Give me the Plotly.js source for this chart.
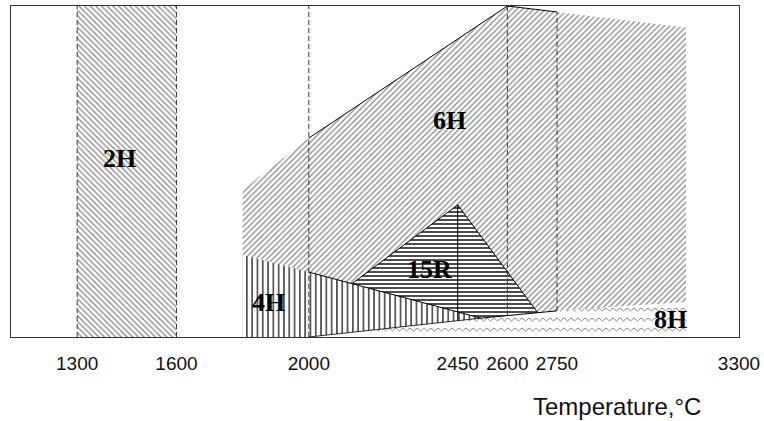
<!DOCTYPE html>
<html>
<head>
<meta charset="utf-8">
<script src="https://cdn.plot.ly/plotly-3.0.1.min.js"></script>
<style>
  html, body { margin: 0; padding: 0; background: #fff; }
  #chart { width: 764px; height: 421px; }
</style>
</head>
<body>
<div id="chart"></div>
<script>
// ---- Data (temperature in °C, vertical = relative stability, arbitrary 0-100) ----
const xTickVals = [1300, 1600, 2000, 2450, 2600, 2750, 3300];
const xTickText = ['1300', '1600', '2000', '2450', '2600', '2750', '3300'];

const region2H_T = [1300, 1600, 1600, 1300];
const region2H_y = [0, 0, 100, 100];

const region6H_T = [1800, 2000, 2600, 2750, 3140, 3140, 2750, 2520, 2000, 1800];
const region6H_y = [44.4, 60.1, 100, 98.2, 93.5, 10.5, 7.9, 5.7, 19.6, 24.8];

const region4H_T = [1800, 2000, 2520, 2000, 1800];
const region4H_y = [24.8, 19.6, 5.7, 0, 0];

const region8H_T = [2000, 2520, 2750, 3140, 3140];
const region8H_y = [0, 5.7, 7.9, 10.5, 0];

const region15R_T = [2130, 2450, 2692, 2520];
const region15R_y = [16.1, 39.9, 7.3, 5.7];

const edge6H_T = [2000, 2600, 2750];
const edge6H_y = [60.1, 100, 98.2];
const edge15R_T = [2130, 2450, 2692];
const edge15R_y = [16.1, 39.9, 7.3];
const edge4Htop_T = [2000, 2520, 2750];
const edge4Htop_y = [19.6, 5.7, 7.9];
const edge4Hbot_T = [2000, 2520];
const edge4Hbot_y = [0, 5.7];
const line2450_T = [2450, 2450];
const line2450_y = [4.9, 39.9];

const dashedT = [1300, 1600, 2000, 2600, 2750];
const dashedLow = [0, 0, 0, 6.5, 7.9];
const dashedHigh = [100, 100, 100, 100, 98.2];

const phaseNames = ['2H', '6H', '15R', '4H', '8H'];
const phaseLabelT = [1428, 2426, 2366, 1879, 3092];
const phaseLabelY = [53.8, 65.3, 20.5, 10.3, 5.2];

// ---- Build traces ----
function region(T, y, pattern) {
  return {
    type: 'scatter', mode: 'none', x: T, y: y, fill: 'toself',
    fillcolor: 'rgba(0,0,0,0)', fillpattern: pattern, hoverinfo: 'skip', showlegend: false
  };
}
function edge(T, y, w, color, dash) {
  return {
    type: 'scatter', mode: 'lines', x: T, y: y,
    line: { color: color, width: w, dash: dash || 'solid' },
    hoverinfo: 'skip', showlegend: false
  };
}

const dashX = [], dashY = [];
dashedT.forEach((t, i) => { dashX.push(t, t, null); dashY.push(dashedLow[i], dashedHigh[i], null); });

const data = [
  region(region2H_T, region2H_y, { shape: '\\', size: 4, solidity: 0.3, fgcolor: '#858585', bgcolor: '#ffffff' }),
  region(region6H_T, region6H_y, { shape: '/', size: 4, solidity: 0.3, fgcolor: '#858585', bgcolor: '#ffffff' }),
  region(region8H_T, region8H_y, { shape: 'x', size: 7, solidity: 0.15, fgcolor: '#9a9a9a', bgcolor: '#ffffff' }),
  region(region4H_T, region4H_y, { shape: '|', size: 5.3, solidity: 0.22, fgcolor: '#000000', bgcolor: '#ffffff' }),
  region(region15R_T, region15R_y, { shape: '-', size: 4, solidity: 0.35, fgcolor: '#000000', bgcolor: '#ffffff' }),
  edge(dashX, dashY, 1, '#333333', '5px,3px'),
  edge(edge6H_T, edge6H_y, 1, '#000000'),
  edge(edge15R_T, edge15R_y, 1, '#000000'),
  edge(edge4Htop_T, edge4Htop_y, 1, '#000000'),
  edge(edge4Hbot_T, edge4Hbot_y, 0.8, '#000000'),
  edge(line2450_T, line2450_y, 1, '#000000')
];
const idx8H = 2;

const W = 764, H = 421, mL = 11, mR = 25, mT = 6, mB = 84;

const annotations = phaseNames.map((name, i) => ({
  x: phaseLabelT[i], y: phaseLabelY[i], xref: 'x', yref: 'y', text: '<b>' + name + '</b>',
  xanchor: 'center', yanchor: 'middle',
  showarrow: false, font: { family: 'Liberation Serif, Times New Roman, serif', size: 26, color: '#000' }
}));
annotations.push({
  x: (617 - mL) / (W - mL - mR), y: (H - mB - 406) / (H - mT - mB),
  xref: 'paper', yref: 'paper', xanchor: 'center', yanchor: 'middle',
  text: 'Temperature,°C', showarrow: false,
  font: { family: 'Liberation Sans, Arial, sans-serif', size: 24, color: '#111' }
});

const layout = {
  width: W, height: H,
  margin: { l: mL, r: mR, t: mT, b: mB, pad: 0 },
  paper_bgcolor: '#fff', plot_bgcolor: '#fff',
  showlegend: false,
  xaxis: {
    range: [1100, 3300], tickvals: xTickVals, ticktext: xTickText,
    showgrid: false, zeroline: false, ticks: '', ticklabelstandoff: 9,
    showline: true, mirror: true, linecolor: '#333', linewidth: 1,
    tickfont: { family: 'Liberation Sans, Arial, sans-serif', size: 19, color: '#111' },
    fixedrange: true
  },
  yaxis: {
    range: [0, 100], showticklabels: false, showgrid: false, zeroline: false, ticks: '',
    showline: true, mirror: true, linecolor: '#333', linewidth: 1, fixedrange: true
  },
  annotations: annotations
};

const gd = document.getElementById('chart');
Plotly.newPlot(gd, data, layout, { staticPlot: true, displayModeBar: false }).then(function () {
  try {
    const traces = gd.querySelectorAll('.scatterlayer .trace');
    const fillPath = traces[idx8H].querySelector('path.js-fill');
    const f = (fillPath.getAttribute('style') || '') + ' ' + (fillPath.getAttribute('fill') || '');
    const m = /url\(["']?#([^"')]+)["']?\)/.exec(f);
    if (!m) return;
    const pat = document.getElementById(m[1]);
    if (!pat) return;
    const NS = 'http://www.w3.org/2000/svg';
    while (pat.firstChild) pat.removeChild(pat.firstChild);
    pat.setAttribute('width', 7);
    pat.setAttribute('height', 10);
    pat.setAttribute('patternUnits', 'userSpaceOnUse');
    pat.removeAttribute('patternTransform');
    const r = document.createElementNS(NS, 'rect');
    r.setAttribute('width', 7); r.setAttribute('height', 10); r.setAttribute('fill', '#ffffff');
    pat.appendChild(r);
    const p = document.createElementNS(NS, 'path');
    p.setAttribute('d', 'M0,2 L3.5,5 L7,2');
    p.setAttribute('fill', 'none'); p.setAttribute('stroke', '#8a8a8a'); p.setAttribute('stroke-width', '1');
    pat.appendChild(p);
  } catch (e) { /* keep default pattern */ }
});
</script>
</body>
</html>
